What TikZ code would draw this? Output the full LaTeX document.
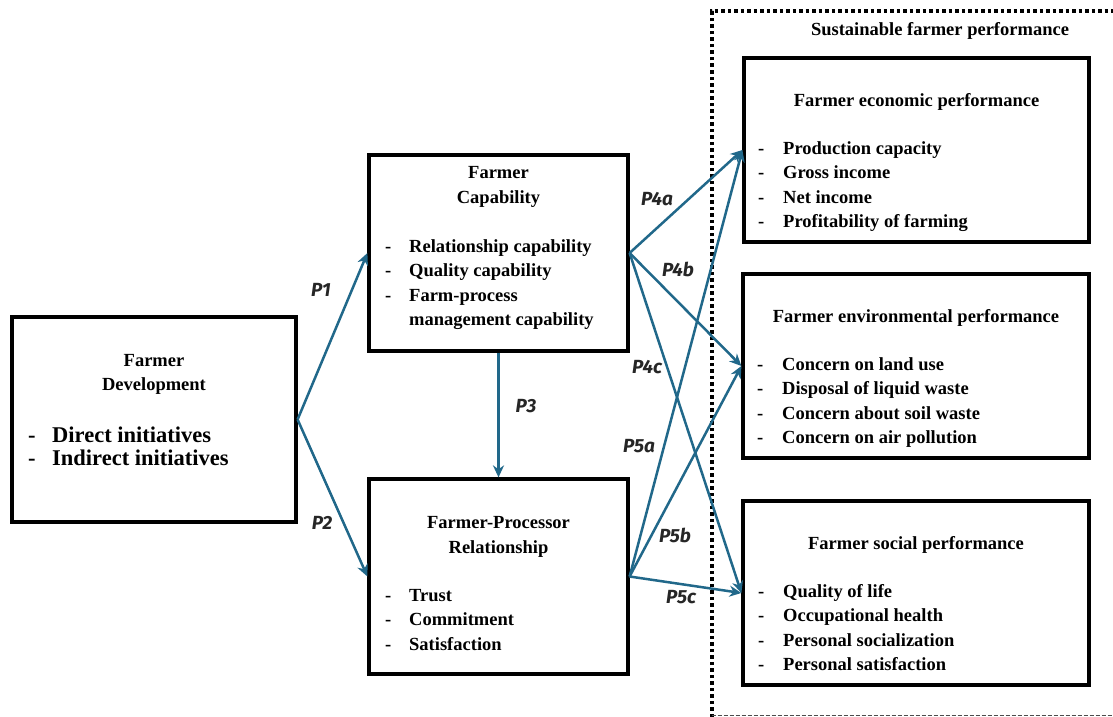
\documentclass[tikz,border=0pt]{standalone}
\usepackage{fontspec}
\setmainfont{Liberation Serif}
\newfontfamily\lblfont{Fira Sans}
\usetikzlibrary{arrows.meta}
\definecolor{linkblue}{RGB}{33,104,138}
\newcommand\boxfont{\fontsize{18.5}{24.5}\selectfont\bfseries}
\newcommand\devfont{\fontsize{22.5}{23}\selectfont\bfseries}
\begin{document}
\begin{tikzpicture}[x=1pt,y=-1pt,
  panel/.style={draw=black,line width=3.2pt,fill=white,inner sep=0pt,rectangle},
  txt/.style={inner sep=0pt,anchor=base},
  lst/.style={inner sep=0pt,anchor=base west},
  link/.style={draw=linkblue,line width=2.5pt,-{Stealth[length=12pt,width=11pt]}},
  plabel/.style={inner sep=0pt,font=\lblfont\fontsize{19}{19}\selectfont\bfseries\itshape,text=black!85}]
\useasboundingbox (0,0) rectangle (1113,717);
\fill[white] (0,0) rectangle (1113,717);

% frame of the sustainable performance group
\draw[line width=4pt,dash pattern=on 3.5pt off 3pt] (711.5,717) -- (711.5,11.5) -- (1113,11.5);
\draw[line width=1.2pt,dash pattern=on 4pt off 2pt,black!70] (711.5,715.5) -- (1113,715.5);
\node[txt] (grp-title) at (940,36) {\boxfont Sustainable farmer performance};

% boxes
\node[panel,minimum width=284pt,minimum height=205pt] (dev) at (154,419.5) {};
\node[panel,minimum width=259pt,minimum height=196pt] (cap) at (498.5,253) {};
\node[panel,minimum width=259pt,minimum height=195pt] (fpr) at (498.5,576.5) {};
\node[panel,minimum width=345pt,minimum height=184pt] (econ) at (916.5,150) {};
\node[panel,minimum width=346pt,minimum height=184pt] (env) at (916,366) {};
\node[panel,minimum width=346pt,minimum height=184pt] (soc) at (916,593) {};

% farmer development
\node[txt] (dev-t1) at (154,366) {\boxfont Farmer};
\node[txt] (dev-t2) at (154,390) {\boxfont Development};
\node[lst] (dev-l) at (28,442) {\devfont\begin{tabular}[t]{@{}p{24pt}@{}l@{}}
-& Direct initiatives\\
-& Indirect initiatives
\end{tabular}};

% farmer capability
\node[txt] (cap-t1) at (498.5,178) {\boxfont Farmer};
\node[txt] (cap-t2) at (498.5,203) {\boxfont Capability};
\node[lst] (cap-l) at (385,252) {\boxfont\begin{tabular}[t]{@{}p{24pt}@{}l@{}}
-& Relationship capability\\
-& Quality capability\\
-& Farm-process\\
 & management capability
\end{tabular}};

% farmer-processor relationship
\node[txt] (fpr-t1) at (498.5,528) {\boxfont Farmer-Processor};
\node[txt] (fpr-t2) at (498.5,553) {\boxfont Relationship};
\node[lst] (fpr-l) at (385,601) {\boxfont\begin{tabular}[t]{@{}p{24pt}@{}l@{}}
-& Trust\\
-& Commitment\\
-& Satisfaction
\end{tabular}};

% economic performance
\node[txt] (econ-t) at (916.5,106) {\boxfont Farmer economic performance};
\node[lst] (econ-l) at (758,154) {\boxfont\begin{tabular}[t]{@{}p{25pt}@{}l@{}}
-& Production capacity\\
-& Gross income\\
-& Net income\\
-& Profitability of farming
\end{tabular}};

% environmental performance
\node[txt] (env-t) at (916,322) {\boxfont Farmer environmental performance};
\node[lst] (env-l) at (757,370) {\boxfont\begin{tabular}[t]{@{}p{25pt}@{}l@{}}
-& Concern on land use\\
-& Disposal of liquid waste\\
-& Concern about soil waste\\
-& Concern on air pollution
\end{tabular}};

% social performance
\node[txt] (soc-t) at (916,549) {\boxfont Farmer social performance};
\node[lst] (soc-l) at (758,597) {\boxfont\begin{tabular}[t]{@{}p{25pt}@{}l@{}}
-& Quality of life\\
-& Occupational health\\
-& Personal socialization\\
-& Personal satisfaction
\end{tabular}};

% propositions
\draw[link] (dev.east) -- (cap.west);
\draw[link] (dev.east) -- (fpr.west);
\draw[link] (cap.south) -- (fpr.north);
\draw[link] (cap.east) -- (econ.west);
\draw[link] (cap.east) -- (env.west);
\draw[link] (cap.east) -- (soc.west);
\draw[link] (fpr.east) -- (econ.west);
\draw[link] (fpr.east) -- (env.west);
\draw[link] (fpr.east) -- (soc.west);

\node[plabel] (p1) at (321,290) {P1};
\node[plabel] (p2) at (322,523) {P2};
\node[plabel] (p3) at (526,406) {P3};
\node[plabel] (p4a) at (657,199) {P4a};
\node[plabel] (p4b) at (678,269) {P4b};
\node[plabel] (p4c) at (647,367) {P4c};
\node[plabel] (p5a) at (639,446) {P5a};
\node[plabel] (p5b) at (675,535) {P5b};
\node[plabel] (p5c) at (681,597) {P5c};
\end{tikzpicture}
\end{document}
